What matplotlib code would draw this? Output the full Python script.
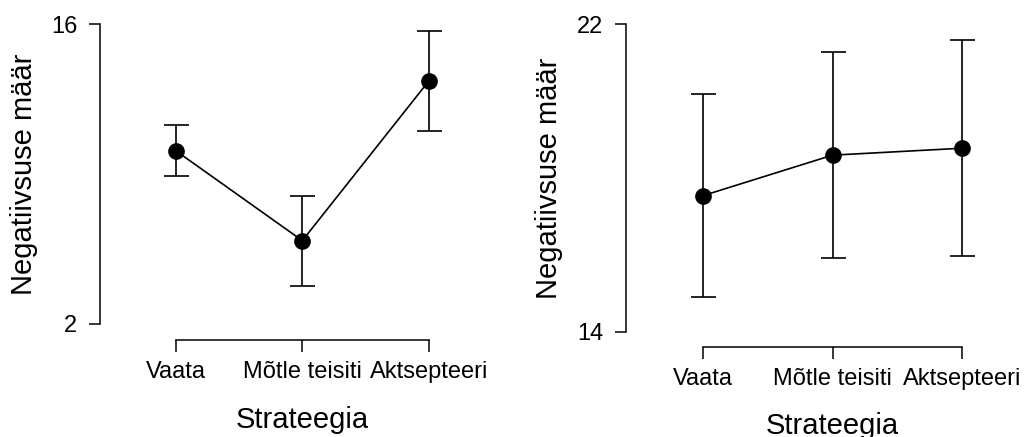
import matplotlib
matplotlib.use('Agg')
import matplotlib.pyplot as plt
from matplotlib.transforms import blended_transform_factory

plt.rcParams['font.family'] = ['Liberation Sans', 'DejaVu Sans']

strategies = ['Vaata', 'Mõtle teisiti', 'Aktsepteeri']

# study 1: means with 95% CI half-widths
left_mean = [10.09, 5.89, 13.35]
left_ci = [1.19, 2.10, 2.34]
left_ticks = [2, 16]

# study 2
right_mean = [17.54, 18.59, 18.77]
right_ci = [2.64, 2.67, 2.81]
right_ticks = [14, 22]

W, H = 1026, 437
fig = plt.figure(figsize=(W / 100, H / 100), dpi=100)


def panel(rect, mean, ci, yticks, offset, ylab_x, xlab_y):
    ax = fig.add_axes(rect)
    x = list(range(len(strategies)))
    ax.errorbar(x, mean, yerr=ci, color='black', fmt='-o', lw=1.2,
                markersize=11, capsize=9, capthick=1.2, elinewidth=1.2)
    ax.set_xlim(-0.6, 2.2)
    ax.set_ylim(yticks[0], yticks[-1])
    ax.set_yticks(yticks)
    ax.set_xticks(x)
    ax.set_xticklabels(strategies)
    for s in ['top', 'right']:
        ax.spines[s].set_visible(False)
    ax.spines['left'].set_bounds(yticks[0], yticks[-1])
    ax.spines['bottom'].set_position(('outward', offset))
    ax.spines['bottom'].set_bounds(0, 2)
    for s in ['left', 'bottom']:
        ax.spines[s].set_linewidth(1.1)
    ax.tick_params(axis='y', length=8, width=1.1, pad=8, labelsize=17)
    ax.tick_params(axis='x', length=8.5, width=1.1, pad=6.5, labelsize=17)
    ax.set_ylabel('Negatiivsuse määr', fontsize=21)
    ax.yaxis.set_label_coords(ylab_x, 0.5)
    ax.set_xlabel('Strateegia', fontsize=21)
    ax.xaxis.set_label_coords(1, xlab_y,
                              transform=blended_transform_factory(ax.transData, ax.transAxes))
    return ax


panel([99.7 / W, 1 - 324 / H, 354.6 / W, 300 / H],
      left_mean, left_ci, left_ticks, 11.5, -0.174, -0.272)
panel([625.8 / W, 1 - 331.7 / H, 361.8 / W, 307.7 / H],
      right_mean, right_ci, right_ticks, 10.8, -0.174, -0.262)

fig.savefig('out.png', dpi=100)
